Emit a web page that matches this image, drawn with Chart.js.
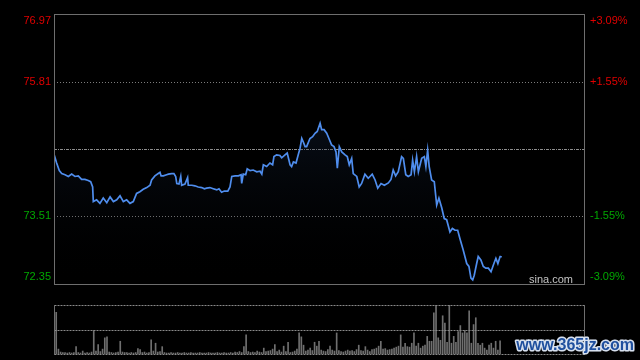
<!DOCTYPE html>
<html><head><meta charset="utf-8">
<script src="https://cdn.jsdelivr.net/npm/chart.js@4.4.0/dist/chart.umd.min.js"></script>
<style>
html,body{margin:0;padding:0;background:#000;width:640px;height:360px;overflow:hidden}
canvas{position:absolute;left:0}
#c1{top:0}
#c2{top:300px}
</style></head><body>
<canvas id="c1" width="640" height="300"></canvas>
<canvas id="c2" width="640" height="60"></canvas>
<script>
// ---- data ----
const prevClose = 74.66;
const priceTicks = [72.35, 73.51, 74.66, 75.81, 76.97];
const priceLabels = ['72.35', '73.51', '74.66', '75.81', '76.97'];
const pctLabels = ['-3.09%', '-1.55%', '0.00%', '+1.55%', '+3.09%'];
const sessionMinutes = 240;
const volumeMax = 100;
const sourceText = 'sina.com';
const watermarkText = 'www.365jz.com';

// minute index (from 09:30, lunch break removed) of each read-off price point
const minutes = [
  0,1.2,2.4,3.5,5.0,6.5,8.0,9.5,11.0,12.5,
  14.0,15.5,16.6,17.5,17.8,19.3,20.8,22.3,23.9,25.4,
  26.9,28.4,29.9,31.4,32.9,34.4,35.9,37.4,38.9,40.4,
  42.0,43.5,44.2,45.7,47.2,48.0,48.5,49.5,51.0,51.8,
  53.3,54.3,55.1,55.6,56.6,57.4,57.8,59.3,60.5,60.8,
  62.4,63.8,65.3,66.9,68.1,69.1,70.6,72.1,73.7,74.7,
  75.9,77.1,78.7,79.7,80.5,82.0,83.5,84.7,85.0,85.7,
  86.8,87.5,88.8,90.2,91.8,93.3,94.1,94.8,96.3,97.8,
  99.0,99.6,100.8,102.3,103.1,104.6,105.6,106.9,107.6,108.4,
  109.6,110.6,111.4,112.2,112.9,113.7,114.4,115.9,117.1,118.2,
  119.2,120.5,121.2,122.3,123.5,124.5,125.7,126.8,127.7,128.3,
  129.2,130.3,131.8,132.8,133.7,134.8,135.5,137.1,138.2,139.3,
  140.8,142.3,144.1,145.4,146.6,148.1,149.6,151.4,152.6,153.6,
  154.7,155.9,157.4,158.2,159.3,160.4,161.7,162.4,163.2,164.2,
  165.0,166.5,167.7,168.4,169.2,169.9,171.0,172.2,173.3,174.3,
  175.6,176.7,177.8,179.3,180.4,181.6,182.8,183.8,185.3,186.9,
  187.9,188.8,189.6,190.3,191.4,192.1,193.3,194.4,195.5,196.7,
  197.9,199.0,200.1,201.0,202.0,202.4
];
const prices = [
  74.57,74.42,74.29,74.24,74.22,74.19,74.23,74.19,74.20,74.14,
  74.14,74.12,74.10,74.01,73.76,73.79,73.73,73.82,73.74,73.84,
  73.76,73.79,73.86,73.76,73.79,73.73,73.76,73.90,73.93,73.97,
  74.00,74.04,74.13,74.20,74.24,74.26,74.20,74.20,74.22,74.23,
  74.24,74.24,74.19,74.07,74.06,74.19,74.04,74.06,74.17,74.04,
  74.04,74.03,74.01,74.00,73.98,73.99,74.00,73.98,73.96,73.98,
  73.92,73.94,73.94,74.01,74.19,74.20,74.20,74.22,74.07,74.23,
  74.22,74.32,74.29,74.30,74.27,74.28,74.23,74.39,74.36,74.42,
  74.39,74.53,74.56,74.55,74.51,74.56,74.59,74.39,74.36,74.44,
  74.42,74.56,74.67,74.84,74.78,74.70,74.70,74.84,74.87,74.93,
  74.96,75.10,74.99,74.99,74.93,74.84,74.73,74.70,74.61,74.33,
  74.70,74.61,74.56,74.53,74.39,74.50,74.24,74.19,74.01,74.07,
  74.23,74.16,74.23,74.13,73.99,74.07,74.04,74.08,74.14,74.30,
  74.20,74.27,74.53,74.50,74.22,74.19,74.22,74.47,74.27,74.53,
  74.27,74.50,74.53,74.36,74.64,74.36,74.13,74.10,73.70,73.82,
  73.65,73.47,73.45,73.24,73.30,73.27,73.27,73.13,72.93,72.70,
  72.65,72.45,72.42,72.50,72.70,72.82,72.76,72.65,72.62,72.62,
  72.56,72.68,72.79,72.70,72.82,72.83
];
// per-minute volume, relative (top of volume panel = 100)
const volumes = [
  39,85,10,4,3,3,2,3,2,3,
  15,3,2,6,2,3,2,4,48,6,
  19,5,10,33,35,4,3,2,3,4,
  26,4,3,3,2,3,2,3,11,9,
  3,4,2,3,29,6,22,4,5,15,
  3,2,2,3,2,2,3,2,2,3,
  2,2,3,2,2,2,3,2,2,2,
  3,2,2,2,3,2,2,3,2,2,
  3,2,4,3,5,3,15,39,5,3,
  4,3,6,4,3,12,5,6,7,10,
  19,5,8,4,16,5,24,3,4,6,
  10,43,35,18,6,8,12,7,24,16,
  26,8,6,5,9,16,8,6,43,7,
  5,4,6,8,6,7,5,9,18,7,
  6,15,8,5,9,10,12,16,26,10,
  11,8,9,10,12,14,16,39,14,22,
  15,14,22,43,16,22,12,16,18,36,
  26,26,84,100,33,28,78,63,24,100,
  22,36,24,46,58,43,48,43,88,22,
  60,74,22,18,22,12,8,18,22,12,
  26,8,27
];

// ---- style ----
const RED = '#e00000', GREEN = '#00a800';
const FONT = 'Arial, "Liberation Sans", sans-serif';
const tickIndex = v => priceTicks.findIndex(t => Math.abs(t - v) < 1e-6);

function labelFor(list) {
  return function (value) {
    const i = tickIndex(value);
    if (i < 0) return '';
    if (priceTicks[i] === prevClose) return '';
    if (i === priceTicks.length - 1) return ['', list[i]];
    if (i === 0) return [list[i], ''];
    return list[i];
  };
}
function axis(position, width, pad, list) {
  return {
    type: 'linear', position,
    min: priceTicks[0], max: priceTicks[priceTicks.length - 1],
    afterBuildTicks: s => { s.ticks = priceTicks.map(v => ({ value: v })); },
    afterFit: s => { s.width = width; s.paddingTop = 0; s.paddingBottom = 0; },
    grid: { display: false, drawTicks: false },
    border: { display: false },
    ticks: {
      padding: pad, autoSkip: false,
      font: { family: FONT, size: 11 },
      color: c => (c.tick && c.tick.value > prevClose) ? RED : GREEN,
      callback: labelFor(list)
    }
  };
}

const priceFrame = {
  id: 'priceFrame',
  beforeDatasetsDraw(chart) {
    const { ctx, chartArea: a, scales: { y } } = chart;
    ctx.save();
    ctx.lineWidth = 1;
    ctx.strokeStyle = '#7c7c7c';
    ctx.setLineDash([1, 2]);
    [priceTicks[1], priceTicks[3]].forEach(v => {
      const py = Math.round(y.getPixelForValue(v)) + 0.5;
      ctx.beginPath(); ctx.moveTo(a.left, py); ctx.lineTo(a.right, py); ctx.stroke();
    });
    ctx.strokeStyle = '#8e8e8e';
    ctx.setLineDash([3, 1, 1, 1]);
    const my = Math.round(y.getPixelForValue(prevClose)) + 0.5;
    ctx.beginPath(); ctx.moveTo(a.left, my); ctx.lineTo(a.right, my); ctx.stroke();
    ctx.restore();
  },
  afterDatasetsDraw(chart) {
    const { ctx, chartArea: a } = chart;
    ctx.save();
    ctx.lineWidth = 1;
    ctx.strokeStyle = '#6e6e6e';
    ctx.strokeRect(Math.round(a.left) + 0.5, Math.round(a.top) + 0.5,
                   Math.round(a.right) - Math.round(a.left), Math.round(a.bottom) - Math.round(a.top));
    ctx.fillStyle = '#c4c4c4';
    ctx.font = '11px ' + FONT;
    ctx.textAlign = 'right';
    ctx.textBaseline = 'alphabetic';
    ctx.fillText(sourceText, a.right - 11, a.bottom - 1);
    ctx.restore();
  }
};

new Chart(document.getElementById('c1'), {
  type: 'line',
  data: {
    datasets: [{
      data: minutes.map((m, i) => ({ x: m, y: prices[i] })),
      borderColor: '#4f8ded',
      borderWidth: 1.7,
      pointRadius: 0,
      tension: 0,
      fill: 'start',
      backgroundColor: c => {
        const a = c.chart.chartArea;
        if (!a) return 'rgba(0,0,0,0)';
        const g = c.chart.ctx.createLinearGradient(0, a.top, 0, a.bottom);
        g.addColorStop(0, 'rgba(40,70,120,0.55)');
        g.addColorStop(1, 'rgba(0,0,0,0)');
        return g;
      }
    }]
  },
  options: {
    responsive: false, animation: false, devicePixelRatio: 1,
    layout: { padding: { top: 14, bottom: 16, left: 0, right: 0 } },
    plugins: { legend: { display: false }, tooltip: { enabled: false } },
    scales: {
      x: { type: 'linear', min: 0, max: sessionMinutes, display: false },
      y: axis('left', 54, 3, priceLabels),
      y2: axis('right', 56, 6, pctLabels)
    }
  },
  plugins: [priceFrame]
});

const volFrame = {
  id: 'volFrame',
  afterDatasetsDraw(chart) {
    const { ctx, chartArea: a } = chart;
    const L = Math.round(a.left) + 0.5, R = Math.round(a.right) + 0.5;
    ctx.save();
    ctx.lineWidth = 1;
    ctx.strokeStyle = '#8a8a8a';
    ctx.setLineDash([2, 1]);
    [a.top, (a.top + a.bottom) / 2, a.bottom].forEach(yy => {
      const py = Math.round(yy) + 0.5;
      ctx.beginPath(); ctx.moveTo(L, py); ctx.lineTo(R, py); ctx.stroke();
    });
    ctx.setLineDash([]);
    ctx.strokeStyle = '#6e6e6e';
    [L, R].forEach(px => {
      ctx.beginPath(); ctx.moveTo(px, Math.round(a.top)); ctx.lineTo(px, Math.round(a.bottom) + 1); ctx.stroke();
    });
    // watermark
    ctx.font = 'bold 16px ' + FONT;
    ctx.textAlign = 'right';
    ctx.textBaseline = 'alphabetic';
    ctx.lineJoin = 'round';
    ctx.lineWidth = 3;
    ctx.strokeStyle = 'rgba(225,235,250,0.95)';
    ctx.strokeText(watermarkText, 634, 50);
    ctx.fillStyle = '#1f4f9e';
    ctx.fillText(watermarkText, 634, 50);
    ctx.restore();
  }
};

new Chart(document.getElementById('c2'), {
  type: 'bar',
  data: {
    datasets: [{
      data: volumes.map((v, i) => ({ x: i, y: v })),
      backgroundColor: '#6f6f6f',
      borderWidth: 0,
      barThickness: 1
    }]
  },
  options: {
    responsive: false, animation: false, devicePixelRatio: 1,
    layout: { padding: { top: 5, bottom: 6, left: 54, right: 56 } },
    plugins: { legend: { display: false }, tooltip: { enabled: false } },
    scales: {
      x: { type: 'linear', min: 0, max: sessionMinutes, display: false, offset: false },
      y: { min: 0, max: volumeMax, display: false }
    }
  },
  plugins: [volFrame]
});
</script>
</body></html>
